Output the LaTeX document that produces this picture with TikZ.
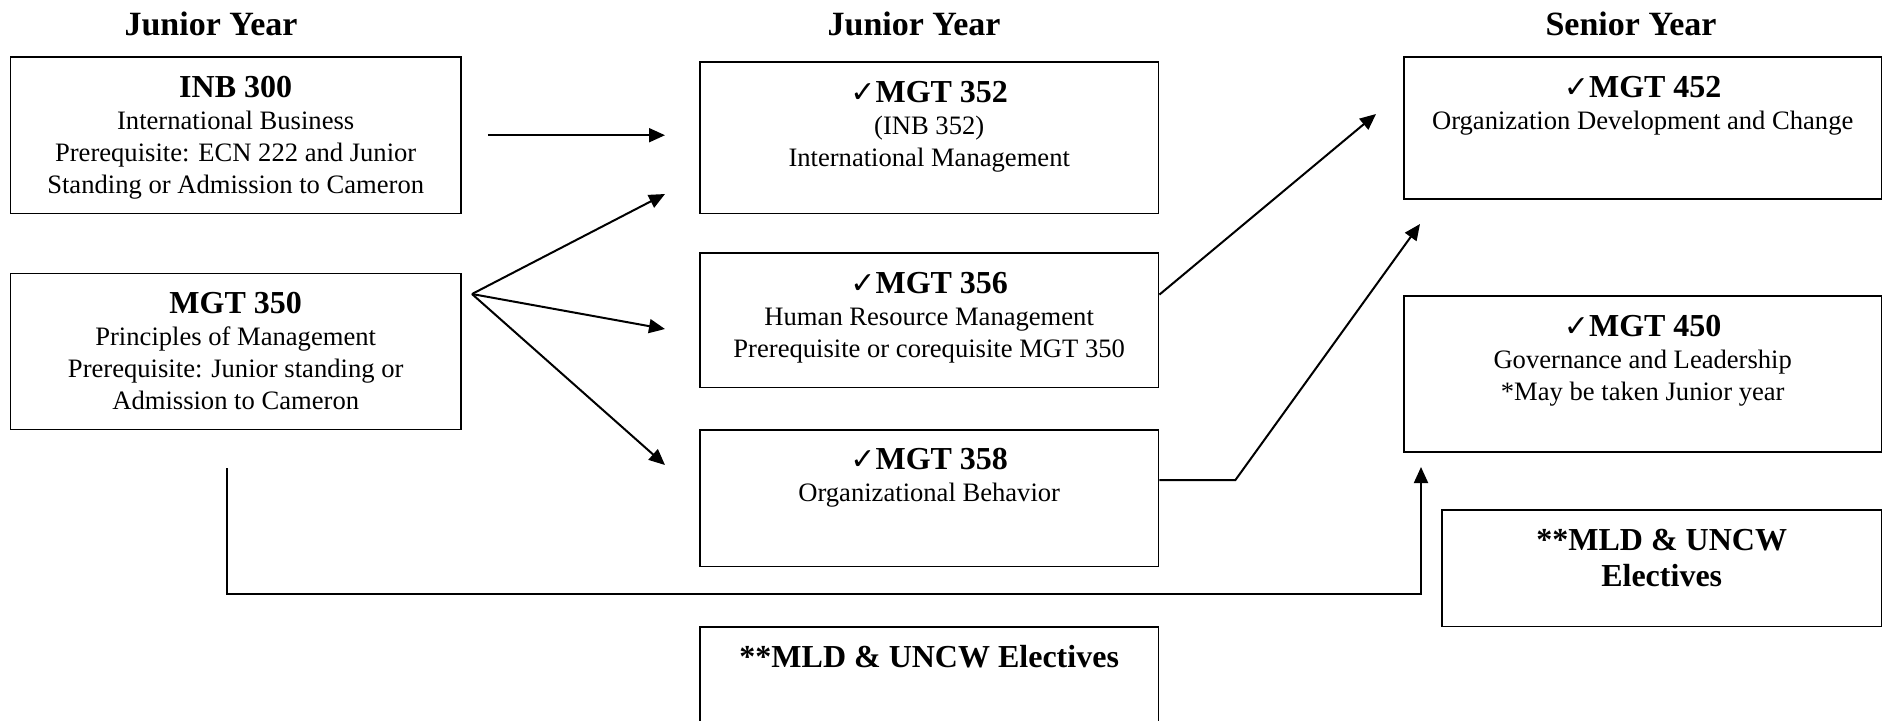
\documentclass[tikz,border=0pt]{standalone}
\usepackage{fontspec}
\setmainfont{Liberation Serif}
\newfontfamily\checkfont{DejaVu Sans}
\usetikzlibrary{positioning, arrows.meta}

\newcommand{\headfont}{\fontsize{16}{18}\selectfont\bfseries}
\newcommand{\bodyfont}{\fontsize{13.3}{16}\selectfont}
\newcommand{\tick}{{\checkfont\bfseries\fontsize{15}{15}\selectfont ✓}}
% box of given width and height, text on top
\newcommand{\course}[4]{\parbox[t][#2][t]{#1}{\centering\vspace*{9.5pt}%
  {\headfont #3\par}{\bodyfont #4\par}}}

\tikzset{course/.style={draw, line width=0.9pt, rectangle, anchor=north west, inner sep=0pt},
         title/.style={font=\fontsize{17}{17}\selectfont\bfseries},
         arrow/.style={line width=1pt, -{Triangle[length=8pt, width=7pt]}}}

\begin{document}
\begin{tikzpicture}[x=0.5pt, y=-0.5pt]
        \useasboundingbox (0,0) rectangle (1883,720);
        % titles
        \node[title] (junior1) at (211,24) {Junior Year};
        \node[title] (junior2) at (914,24) {Junior Year};
        \node[title] (senior) at (1631,24) {Senior Year};
        % first column
        \node[course] (inb300) at (9.6,56) {\course{225.2pt}{78.3pt}{INB 300}{International Business\\
            Prerequisite: ECN 222 and Junior\\Standing or Admission to Cameron}};
        \node[course] (mgt350) at (9.6,272.5) {\course{225.2pt}{78pt}{MGT 350}{Principles of Management\\
            Prerequisite: Junior standing or\\Admission to Cameron}};
        % second column
        \node[course] (mgt352) at (699,61) {\course{229.3pt}{75.8pt}{\tick MGT 352}{(INB 352)\\International Management}};
        \node[course] (mgt356) at (699,252) {\course{229.3pt}{67.3pt}{\tick MGT 356}{Human Resource Management\\
            Prerequisite or corequisite MGT 350}};
        \node[course] (mgt358) at (699,428.7) {\course{229.3pt}{68.4pt}{\tick MGT 358}{Organizational Behavior}};
        \node[course] (elect1) at (699,625.7) {\course{229.3pt}{70pt}{**MLD \& UNCW Electives}{}};
        % third column
        \node[course] (mgt452) at (1403,56) {\course{238.8pt}{71pt}{\tick MGT 452}{Organization Development and Change}};
        \node[course] (mgt450) at (1403,295) {\course{238.8pt}{78pt}{\tick MGT 450}{Governance and Leadership\\
            {}*May be taken Junior year}};
        \node[course] (elect2) at (1441,509) {\course{219.8pt}{58.3pt}{**MLD \& UNCW\\Electives}{}};
        % free ends of the arrows
        \coordinate (fan) at (472,294);
        \coordinate (to352) at (665,194);
        \coordinate (to356) at (665,329);
        \coordinate (to358) at (665,465);
        \coordinate (to452) at (1376,114);
        \coordinate (to450) at (1420,224);
        \coordinate (up450) at (1421,467);
        \coordinate (bend358) at ([xshift=38pt, yshift=9pt]mgt358.east);
        \coordinate (from350) at ([xshift=-4.5pt, yshift=-19pt]mgt350.south);
        % arrows
        \draw[arrow, shorten <=13pt, shorten >=17pt] (inb300.east) -- (inb300.east -| mgt352.west);
        \draw[arrow] (fan) -- (to352);
        \draw[arrow] (fan) -- (to356);
        \draw[arrow] (fan) -- (to358);
        \draw[arrow] ([yshift=12.8pt]mgt356.east) -- (to452);
        \draw[arrow] ([yshift=9pt]mgt358.east) -- (bend358) -- (to450);
        \draw[arrow] (from350) -- ++(0,-63pt) -| (up450);
    \end{tikzpicture}
\end{document}
